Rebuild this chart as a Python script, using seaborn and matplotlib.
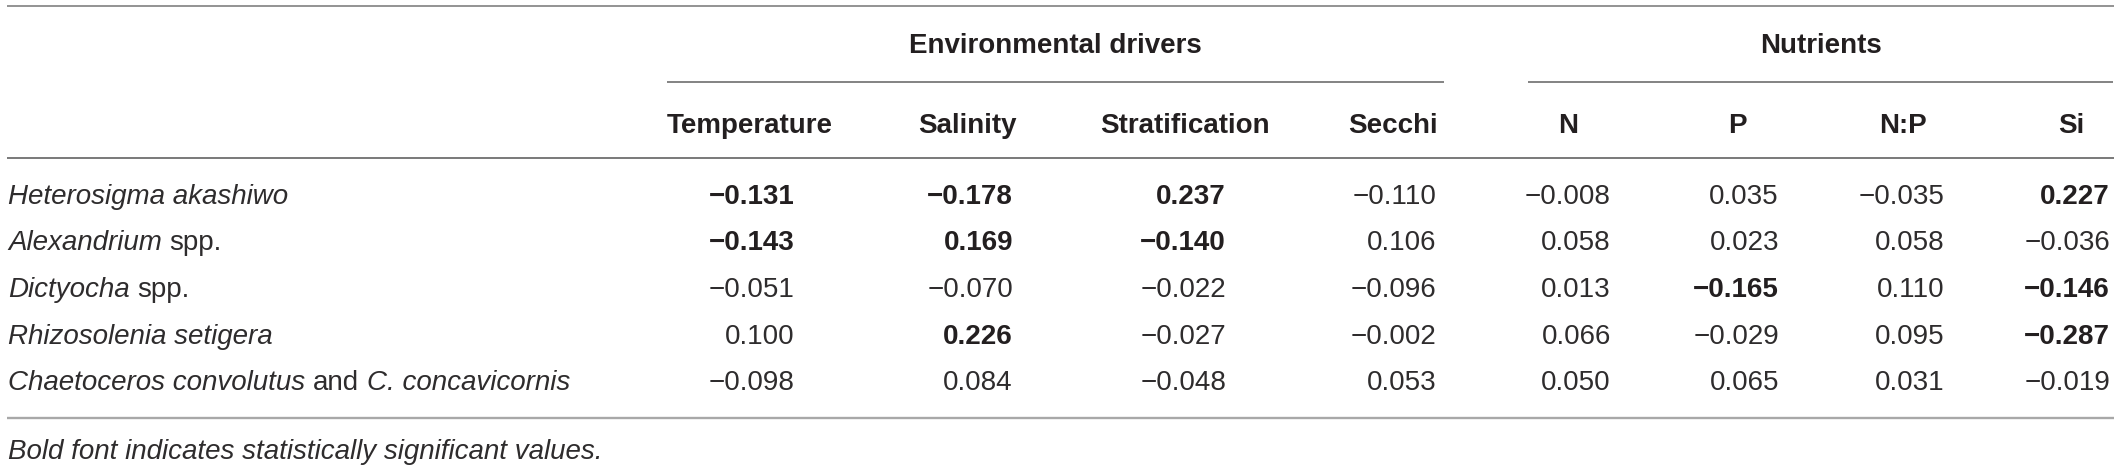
import matplotlib
matplotlib.use("Agg")
import matplotlib.pyplot as plt
import seaborn as sns

# ---------------- data ----------------
groups = ["Environmental drivers", "Nutrients"]
columns = ["Temperature", "Salinity", "Stratification", "Secchi", "N", "P", "N:P", "Si"]
species = [
    [("Heterosigma akashiwo", True)],
    [("Alexandrium", True), ("spp.", False)],
    [("Dictyocha", True), ("spp.", False)],
    [("Rhizosolenia setigera", True)],
    [("Chaetoceros convolutus", True), ("and", False), ("C. concavicornis", True)],
]
heterosigma = [-0.131, -0.178, 0.237, -0.110, -0.008, 0.035, -0.035, 0.227]
alexandrium = [-0.143, 0.169, -0.140, 0.106, 0.058, 0.023, 0.058, -0.036]
dictyocha = [-0.051, -0.070, -0.022, -0.096, 0.013, -0.165, 0.110, -0.146]
rhizosolenia = [0.100, 0.226, -0.027, -0.002, 0.066, -0.029, 0.095, -0.287]
chaetoceros = [-0.098, 0.084, -0.048, 0.053, 0.050, 0.065, 0.031, -0.019]
values = [heterosigma, alexandrium, dictyocha, rhizosolenia, chaetoceros]
significant = [
    [1, 1, 1, 0, 0, 0, 0, 1],
    [1, 1, 1, 0, 0, 0, 0, 0],
    [0, 0, 0, 0, 0, 1, 0, 1],
    [0, 1, 0, 0, 0, 0, 0, 1],
    [0, 0, 0, 0, 0, 0, 0, 0],
]
footnote = "Bold font indicates statistically significant values."

# ---------------- layout ----------------
sns.set_theme(style="white")
plt.rcParams["font.family"] = ["Liberation Sans", "DejaVu Sans"]

W, H = 2120, 467
fig = plt.figure(figsize=(W / 100, H / 100), dpi=100)
ax = fig.add_axes([0, 0, 1, 1])
ax.set_xlim(0, W)
ax.set_ylim(H, 0)
ax.axis("off")
sns.despine(ax=ax, left=True, bottom=True)

FS = 20
TXT = "#231f20"
TXT_REG = "#2e2c2d"
head_x = [750, 967, 1185, 1393, 1568, 1737, 1903, 2071]
val_right = [795, 1013, 1226, 1436, 1611, 1779, 1945, 2110]
group_spans = [(667, 1444), (1528, 2113)]
base = 10  # baseline offset from visual centre of capitals
y_top, y_group, y_gline, y_head, y_hline = 6, 43, 82, 123, 158
row_y = [194, 240.5, 287, 333.5, 380]
y_bline, y_foot = 418, 449
x0, x1 = 7, 2114
label_x = 8

# horizontal rules
ax.plot([x0, x1], [y_top, y_top], color="#8a8a8a", lw=1.3, solid_capstyle="butt")
for (a, b) in group_spans:
    ax.plot([a, b], [y_gline, y_gline], color="#7a7a7a", lw=1.3, solid_capstyle="butt")
ax.plot([x0, x1], [y_hline, y_hline], color="#6e6e6e", lw=1.3, solid_capstyle="butt")
ax.plot([x0, x1], [y_bline, y_bline], color="#a8a8a8", lw=1.7, solid_capstyle="butt")

# group headers
for g, (a, b) in zip(groups, group_spans):
    ax.text((a + b) / 2, y_group + base, g, ha="center", va="baseline",
            fontsize=FS, fontweight="bold", color=TXT)

# column headers
for c, x in zip(columns, head_x):
    ax.text(x, y_head + base, c, ha="center", va="baseline",
            fontsize=FS, fontweight="bold", color=TXT)

fig.canvas.draw()
renderer = fig.canvas.get_renderer()
space = 0.278 * FS * 100 / 72

# row labels (mixed italic / roman)
for segs, y in zip(species, row_y):
    x = label_x
    for txt, it in segs:
        t = ax.text(x, y + base, txt, ha="left", va="baseline", fontsize=FS,
                    fontstyle="italic" if it else "normal", color=TXT_REG)
        bb = t.get_window_extent(renderer)
        x += bb.width + space

# values (right-aligned within each column)
for vals, sig, y in zip(values, significant, row_y):
    for v, s, x in zip(vals, sig, val_right):
        s_txt = f"{v:.3f}".replace("-", "\u2212")
        ax.text(x, y + base, s_txt, ha="right", va="baseline", fontsize=FS,
                fontweight="bold" if s else "normal",
                color=TXT if s else TXT_REG)

# footnote
ax.text(label_x, y_foot + base, footnote, ha="left", va="baseline",
        fontsize=FS, fontstyle="italic", color=TXT_REG)

fig.savefig("out.png", dpi=100, facecolor="white")
